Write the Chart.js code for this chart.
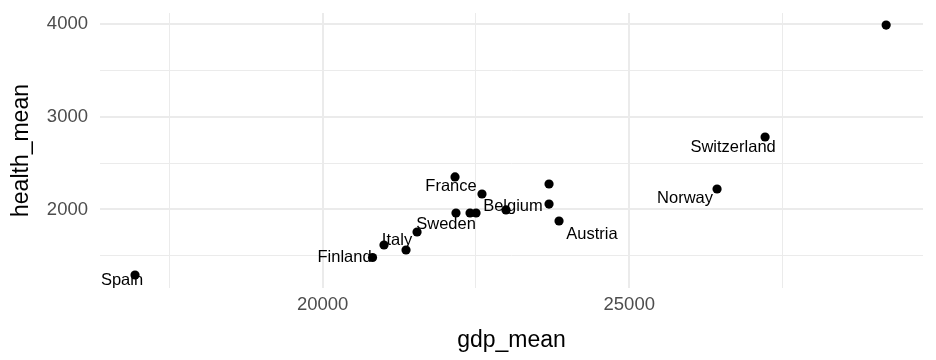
<!DOCTYPE html>
<html>
<head>
<meta charset="utf-8">
<script src="https://cdn.jsdelivr.net/npm/chart.js@4.4.1/dist/chart.umd.min.js"></script>
<style>
  html, body { margin: 0; padding: 0; background: #ffffff; }
  #wrap { width: 936px; height: 360px; }
</style>
</head>
<body>
<div id="wrap"><canvas id="scatterChart" width="936" height="360"></canvas></div>
<script>
// data
const countries = ['Spain', 'Finland', 'Italy', '', 'Sweden', '', '', '', 'France', '', 'Belgium', '', '', 'Austria', 'Norway', 'Switzerland', '']
const gdpMean = [16941, 20814, 21001, 21360, 21540, 22175, 22404, 22502, 22159, 22599, 22990, 23692, 23692, 23855, 26432, 27215, 29189]
const healthMean = [1293, 1482, 1617, 1563, 1757, 1962, 1962, 1962, 2351, 2167, 1995, 2275, 2059, 1876, 2221, 2782, 3990]
// gridlines (major + minor) and the ones that carry a label
const xGrid = [17500, 20000, 22500, 25000, 27500]
const yGrid = [1500, 2000, 2500, 3000, 3500, 4000]
const xTickLabels = [20000, 25000]
const yTickLabels = [2000, 3000, 4000]

// where the repelled labels sit relative to their point (px)
const labelOffsets = {
  Spain: [-13, 5],
  Finland: [-28, 0],
  Italy: [13, -5],
  Sweden: [29, -8],
  France: [-4, 9],
  Belgium: [7, -4],
  Austria: [33, 13],
  Norway: [-32, 9],
  Switzerland: [-32, 10]
}

const FONT = '"Liberation Sans", Arial, sans-serif'

const pointLabels = {
  id: 'pointLabels',
  beforeDatasetsDraw(chart) {
    const ctx = chart.ctx
    const meta = chart.getDatasetMeta(0)
    ctx.save()
    ctx.font = '16.5px ' + FONT
    ctx.fillStyle = '#000000'
    ctx.textAlign = 'center'
    ctx.textBaseline = 'middle'
    meta.data.forEach((pt, i) => {
      const name = countries[i]
      if (!name) return
      const off = labelOffsets[name] || [0, 0]
      ctx.fillText(name, pt.x + off[0], pt.y + off[1])
    })
    ctx.restore()
  }
}

const ctx = document.getElementById('scatterChart')

new Chart(ctx, {
  type: 'scatter',
  data: {
    datasets: [{
      label: 'health_mean',
      data: gdpMean.map((g, i) => ({ x: g, y: healthMean[i] })),
      backgroundColor: '#000000',
      borderColor: '#000000',
      borderWidth: 0,
      pointRadius: 4.6,
      pointHoverRadius: 4.6
    }]
  },
  options: {
    responsive: false,
    animation: false,
    layout: {
      padding: { top: 13, right: 13, left: 0, bottom: 0 }
    },
    scales: {
      x: {
        type: 'linear',
        min: 16370,
        max: 29790,
        border: { display: false },
        grid: {
          color: '#EBEBEB',
          drawTicks: false,
          lineWidth: c => (c.tick && xTickLabels.includes(c.tick.value)) ? 2 : 1
        },
        ticks: {
          autoSkip: false,
          maxRotation: 0,
          padding: 6,
          color: '#4D4D4D',
          font: { family: FONT, size: 18.5 },
          callback: v => xTickLabels.includes(v) ? String(v) : ''
        },
        title: {
          display: true,
          text: 'gdp_mean',
          color: '#000000',
          padding: { top: 0, bottom: 6 },
          font: { family: FONT, size: 23 }
        },
        afterBuildTicks: scale => { scale.ticks = xGrid.map(v => ({ value: v })) },
        afterFit: scale => {
          scale.height = 72
          scale.paddingLeft = 0
          scale.paddingRight = 0
        }
      },
      y: {
        type: 'linear',
        min: 1153,
        max: 4120,
        border: { display: false },
        grid: {
          color: '#EBEBEB',
          drawTicks: false,
          lineWidth: c => (c.tick && yTickLabels.includes(c.tick.value)) ? 2 : 1
        },
        ticks: {
          autoSkip: false,
          padding: 12,
          color: '#4D4D4D',
          font: { family: FONT, size: 18.5 },
          callback: v => yTickLabels.includes(v) ? String(v) : ''
        },
        title: {
          display: true,
          text: 'health_mean',
          color: '#000000',
          padding: { top: 8, bottom: 0 },
          font: { family: FONT, size: 23 }
        },
        afterBuildTicks: scale => { scale.ticks = yGrid.map(v => ({ value: v })) },
        afterFit: scale => {
          scale.width = 100
          scale.paddingTop = 0
          scale.paddingBottom = 0
        }
      }
    },
    plugins: {
      legend: { display: false },
      tooltip: { enabled: false }
    }
  },
  plugins: [pointLabels]
})
</script>
</body>
</html>
